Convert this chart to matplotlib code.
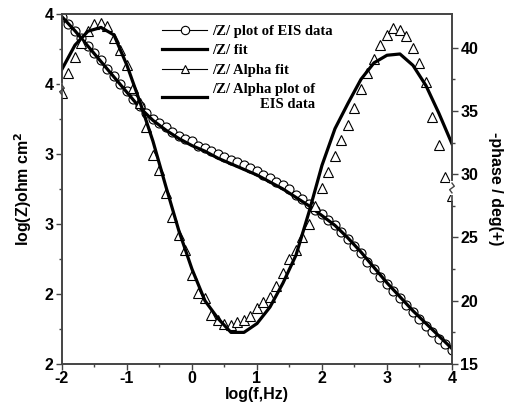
import numpy as np
import matplotlib.pyplot as plt
from matplotlib.lines import Line2D

# log(f) grids
logf_data = np.round(np.linspace(-2, 4, 61), 2)
logf_fit = np.round(np.linspace(-2, 4, 31), 2)

# log|Z| measured (circles)
z_data = [4.48, 4.43, 4.38, 4.33, 4.27, 4.22, 4.17, 4.11, 4.06, 4.00,
          3.95, 3.89, 3.84, 3.79, 3.75, 3.72, 3.69, 3.66, 3.63, 3.61,
          3.59, 3.56, 3.54, 3.52, 3.50, 3.48, 3.46, 3.44, 3.42, 3.40,
          3.38, 3.35, 3.33, 3.30, 3.28, 3.25, 3.21, 3.18, 3.14, 3.10,
          3.07, 3.03, 2.99, 2.94, 2.89, 2.84, 2.79, 2.73, 2.68, 2.62,
          2.57, 2.52, 2.47, 2.42, 2.37, 2.32, 2.27, 2.23, 2.18, 2.14,
          2.10]
# log|Z| fit
z_fit = [4.48, 4.38, 4.27, 4.16, 4.05, 3.94, 3.83, 3.74, 3.67, 3.61,
         3.56, 3.52, 3.47, 3.43, 3.39, 3.35, 3.30, 3.25, 3.19, 3.13,
         3.06, 2.99, 2.90, 2.80, 2.69, 2.58, 2.48, 2.38, 2.29, 2.20,
         2.11]

# -phase measured (triangles)
ph_data = [36.4, 38.0, 39.3, 40.4, 41.3, 41.9, 41.95, 41.7, 40.8, 39.8,
           38.6, 36.8, 35.6, 33.7, 31.5, 30.3, 28.5, 26.6, 25.2, 24.0,
           22.0, 20.6, 20.2, 18.9, 18.5, 18.2, 18.1, 18.3, 18.5, 18.8,
           19.4, 19.9, 20.3, 21.2, 22.2, 23.3, 24.0, 25.0, 26.1, 27.5,
           28.9, 30.2, 31.4, 32.7, 33.9, 35.2, 36.7, 38.0, 39.1, 40.2,
           41.0, 41.55, 41.4, 40.9, 40.0, 38.8, 37.3, 34.5, 32.3, 29.8,
           28.3]
# -phase fit
ph_fit = [38.3, 40.2, 41.3, 41.6, 41.0, 38.6, 35.7, 32.6, 29.0, 25.5,
          22.5, 20.0, 18.6, 17.5, 17.5, 18.2, 19.5, 21.4, 23.6, 27.0,
          30.7, 33.6, 35.6, 37.5, 38.8, 39.4, 39.5, 38.6, 37.0, 34.8,
          32.4]

plt.rcParams['font.family'] = ['Liberation Sans', 'DejaVu Sans']
plt.rcParams['font.weight'] = 'bold'
plt.rcParams['axes.unicode_minus'] = False

fig = plt.figure(figsize=(5.11, 4.13), dpi=100)
ax = fig.add_axes([0.1213, 0.1186, 0.7632, 0.8475])
ax2 = ax.twinx()

spine_col = '#444444'

ax.plot(logf_data, z_data, linestyle='none', marker='o', ms=6.5,
        mfc='white', mec='black', mew=0.8)
ax.plot(logf_fit, z_fit, color='black', lw=2.3)

ax2.plot(logf_data, ph_data, linestyle='none', marker='^', ms=7.5,
         mfc='white', mec='black', mew=0.8)
ax2.plot(logf_fit, ph_fit, color='black', lw=2.3)

ax.set_xlim(-2, 4)
ax.set_ylim(2, 4.5)
ax2.set_ylim(15, 42.66)

ax.set_xticks(range(-2, 5))
ax.set_xticks(np.arange(-1.5, 4, 1), minor=True)
ax.set_yticks(np.arange(2, 4.51, 0.5))
ax.set_yticklabels(['2', '2', '3', '3', '4', '4'])
ax.set_yticks(np.arange(2.25, 4.5, 0.5), minor=True)
ax2.set_yticks(range(15, 41, 5))
ax2.set_yticks(np.arange(17.5, 42, 5), minor=True)

for a in (ax, ax2):
    a.tick_params(which='major', direction='out', length=4, width=1,
                  color=spine_col, labelsize=11.5)
    a.tick_params(which='minor', direction='out', length=2.5, width=1,
                  color=spine_col)
    for s in a.spines.values():
        s.set_color(spine_col)
        s.set_linewidth(1.2)
ax.tick_params(axis='x', pad=1)
ax.tick_params(axis='y', pad=2)
ax2.tick_params(axis='y', pad=2)

ax.set_xlabel('log(f,Hz)', fontsize=11.5, fontweight='bold', labelpad=1)
ax.set_ylabel('log(Z)ohm cm$^\\mathbf{2}$', fontsize=11.5,
              fontweight='bold', labelpad=8)
ax2.set_ylabel('-phase / deg(+)', fontsize=11.5, fontweight='bold',
               rotation=270, labelpad=18)

# axis break marks
for a, yb in ((ax, 0.783), (ax2, 0.503)):
    xs = 0 if a is ax else 1
    a.plot([xs, xs], [yb - 0.014, yb + 0.014], color='white', lw=3,
           transform=a.transAxes, clip_on=False, zorder=5)
    a.plot([xs, xs + 0.006, xs - 0.006, xs],
           [yb + 0.014, yb + 0.005, yb - 0.005, yb - 0.014],
           color=spine_col, lw=1, transform=a.transAxes, clip_on=False,
           zorder=6)

handles = [
    Line2D([], [], color='black', lw=0.8, marker='o', ms=6,
           mfc='white', mec='black', mew=0.8),
    Line2D([], [], color='black', lw=2.3),
    Line2D([], [], color='black', lw=0.8, marker='^', ms=6,
           mfc='white', mec='black', mew=0.8),
    Line2D([], [], color='black', lw=2.3),
]
labels = ['/Z/ plot of EIS data', '/Z/ fit', '/Z/ Alpha fit',
          '/Z/ Alpha plot of\nEIS data']
leg = ax2.legend(handles, labels, loc='upper left',
                 bbox_to_anchor=(0.238, 0.99), frameon=False,
                 handlelength=3.1, handletextpad=0.3, labelspacing=0.42,
                 borderpad=0, prop={'family': 'Liberation Serif',
                                    'weight': 'bold', 'size': 10.5})
for t in leg.get_texts():
    t.set_multialignment('right')

fig.savefig('out.png', dpi=100)
